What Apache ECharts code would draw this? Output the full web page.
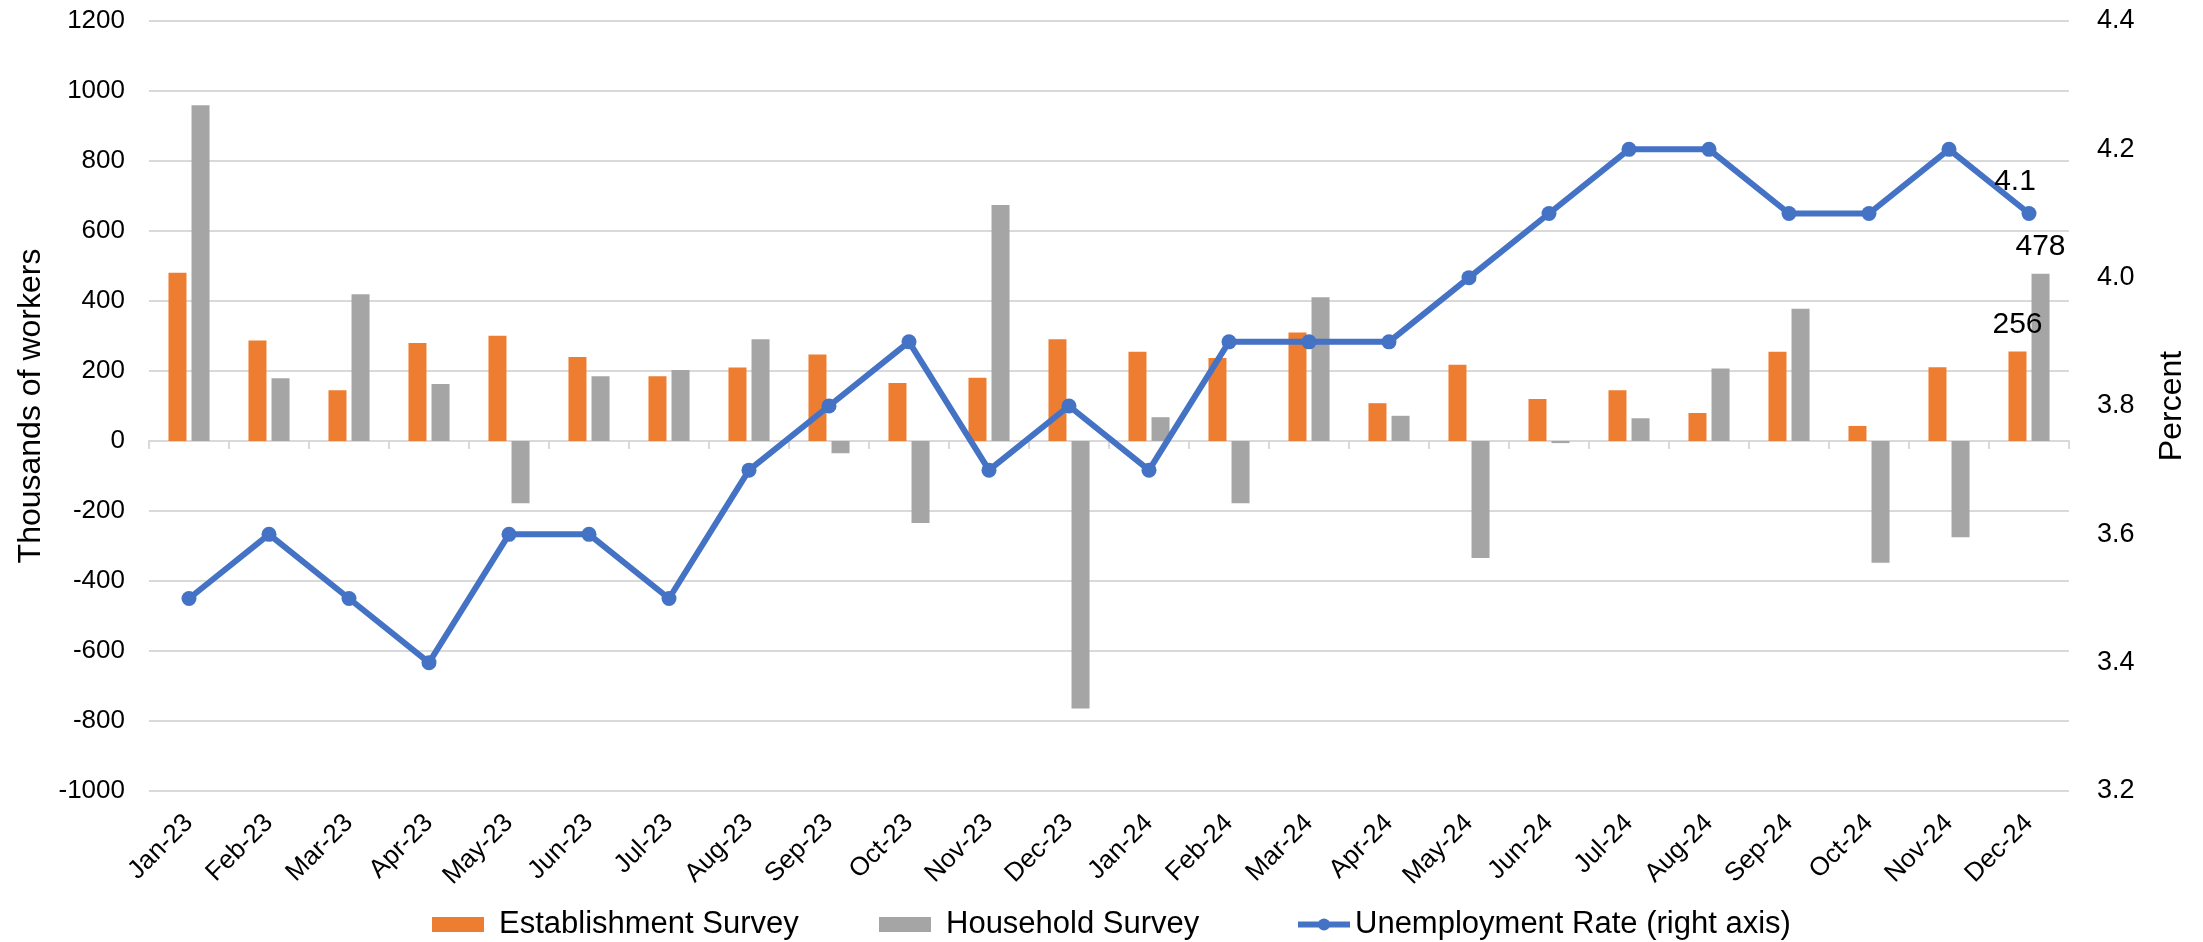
<!DOCTYPE html>
<html>
<head>
<meta charset="utf-8">
<script src="https://cdn.jsdelivr.net/npm/echarts@6/dist/echarts.min.js"></script>
<style>
html,body{margin:0;padding:0;background:#fff;}
#chart{width:2203px;height:942px;}
</style>
</head>
<body>
<div id="chart"></div>
<script>
const categories = ['Jan-23','Feb-23','Mar-23','Apr-23','May-23','Jun-23','Jul-23','Aug-23','Sep-23','Oct-23','Nov-23','Dec-23',
                    'Jan-24','Feb-24','Mar-24','Apr-24','May-24','Jun-24','Jul-24','Aug-24','Sep-24','Oct-24','Nov-24','Dec-24'];
const establishment = [481, 287, 145, 280, 301, 240, 185, 210, 247, 166, 181, 291,
                       255, 237, 310, 108, 218, 120, 145, 80, 255, 43, 211, 256];
const household = [959, 179, 419, 163, -178, 185, 203, 291, -35, -234, 674, -764,
                   68, -178, 411, 72, -334, -6, 65, 207, 378, -348, -275, 478];
const unemployment = [3.5, 3.6, 3.5, 3.4, 3.6, 3.6, 3.5, 3.7, 3.8, 3.9, 3.7, 3.8,
                      3.7, 3.9, 3.9, 3.9, 4.0, 4.1, 4.2, 4.2, 4.1, 4.1, 4.2, 4.1];

const FONT = "'Liberation Sans', Arial, sans-serif";
const last = categories.length - 1;

function withLastLabel(arr, labelOpts) {
  return arr.map((v, i) => i === last ? { value: v, label: Object.assign({ show: true }, labelOpts) } : v);
}

const legendText = { fontFamily: FONT, fontSize: 31, color: '#000' };
function legendAt(left, name, icon, pad, extra) {
  return Object.assign({
    left: left, top: 904,
    itemWidth: 52, itemHeight: 15,
    textStyle: Object.assign({ padding: [0, 0, 0, pad] }, legendText),
    data: [icon ? { name: name, icon: icon } : { name: name }]
  }, extra || {});
}

const chart = echarts.init(document.getElementById('chart'), null, { renderer: 'canvas' });
chart.setOption({
  animation: false,
  backgroundColor: '#fff',
  textStyle: { fontFamily: FONT, color: '#000' },
  grid: { left: 149, right: 134, top: 21, bottom: 151, containLabel: false },
  legend: [
    legendAt(427, 'Establishment Survey', 'rect', 10),
    legendAt(874, 'Household Survey', 'rect', 10),
    legendAt(1290, 'Unemployment Rate (right axis)', null, 0, { lineStyle: { width: 6, color: '#4472C4' } })
  ],
  xAxis: [
    {
      type: 'category', data: categories, position: 'bottom',
      axisLine: { show: false, onZero: false },
      axisTick: { show: false },
      axisLabel: { rotate: 45, fontSize: 26, fontFamily: FONT, color: '#000', margin: 28, interval: 0 }
    },
    {
      type: 'category', data: categories, position: 'bottom',
      axisLine: { show: true, onZero: true, onZeroAxisIndex: 0, lineStyle: { color: '#D9D9D9', width: 2 } },
      axisTick: { show: true, length: 8, interval: 0, lineStyle: { color: '#D9D9D9', width: 2 } },
      axisLabel: { show: false },
      splitLine: { show: false }
    }
  ],
  yAxis: [
    {
      type: 'value', min: -1000, max: 1200, interval: 200, position: 'left',
      name: 'Thousands of workers', nameLocation: 'middle', nameGap: 88,
      nameTextStyle: { fontSize: 32, fontFamily: FONT, color: '#000' },
      axisLine: { show: false }, axisTick: { show: false },
      axisLabel: { fontSize: 26, fontFamily: FONT, color: '#000', margin: 24,
                   formatter: v => String(v) },
      splitLine: { show: true, lineStyle: { color: '#D9D9D9', width: 2 } }
    },
    {
      type: 'value', min: 3.2, max: 4.4, interval: 0.2, position: 'right',
      name: 'Percent', nameLocation: 'middle', nameGap: 87,
      nameTextStyle: { fontSize: 32, fontFamily: FONT, color: '#000' },
      axisLine: { show: false }, axisTick: { show: false },
      axisLabel: { fontSize: 27, fontFamily: FONT, color: '#000', margin: 28,
                   formatter: v => Number(v).toFixed(1) },
      splitLine: { show: false }
    }
  ],
  series: [
    {
      name: 'Establishment Survey', type: 'bar', xAxisIndex: 0, yAxisIndex: 0,
      barWidth: 18, barGap: '28%',
      itemStyle: { color: '#ED7D31' },
      data: withLastLabel(establishment, { position: 'top', distance: 12, fontSize: 30, color: '#000' })
    },
    {
      name: 'Household Survey', type: 'bar', xAxisIndex: 0, yAxisIndex: 0,
      barWidth: 18, barGap: '28%',
      itemStyle: { color: '#A5A5A5' },
      data: withLastLabel(household, { position: 'top', distance: 12, fontSize: 30, color: '#000' })
    },
    {
      name: 'Unemployment Rate (right axis)', type: 'line', xAxisIndex: 0, yAxisIndex: 1,
      symbol: 'circle', symbolSize: 15,
      lineStyle: { color: '#4472C4', width: 6 },
      itemStyle: { color: '#4472C4' },
      z: 5,
      data: withLastLabel(unemployment, { position: 'top', distance: 9, offset: [-14, 0], fontSize: 30, color: '#000',
                                          formatter: p => Number(p.value).toFixed(1) })
    }
  ]
});
</script>
</body>
</html>
